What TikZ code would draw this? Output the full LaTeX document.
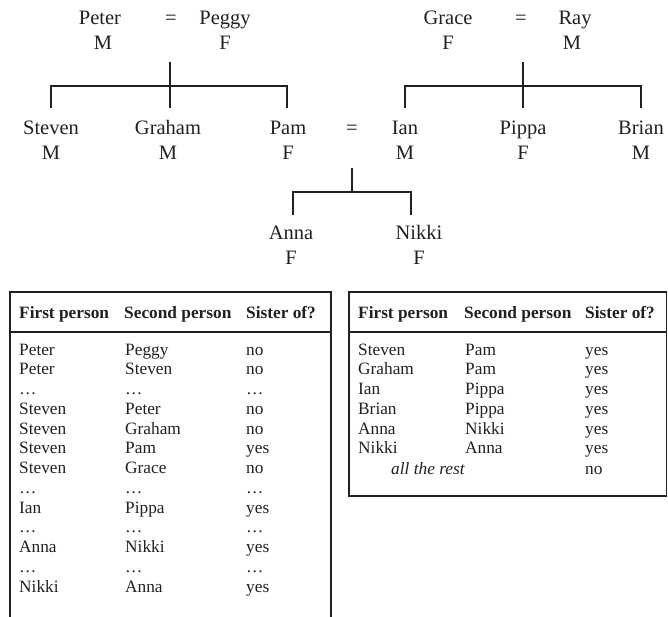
\documentclass[tikz,border=0pt]{standalone}
\usepackage{fontspec}
\setmainfont{Liberation Serif}
\definecolor{ink}{HTML}{231F20}
\begin{document}
\begin{tikzpicture}[x=1pt,y=-1pt,
  tname/.style={anchor=base,inner sep=0pt,text=ink,font=\fontsize{20.5}{24}\selectfont},
  tab/.style={anchor=base west,inner sep=0pt,text=ink,font=\fontsize{17.3}{20}\selectfont},
  tabh/.style={anchor=base west,inner sep=0pt,text=ink,font=\fontsize{17.3}{20}\selectfont\bfseries},
  tline/.style={draw=ink,line width=1.2pt},
  boxline/.style={draw=ink,line width=1.5pt}]
\useasboundingbox (0,0) rectangle (668,617);
% ---- tree: first couple
\node[tname] (peter) at (100,25) {Peter};
\node[tname] (petersex) at (103,50) {M};
\node[tname] (eq1) at (171,25) {=};
\node[tname] (peggy) at (225,25) {Peggy};
\node[tname] (peggysex) at (225,50) {F};
% ---- second couple
\node[tname] (grace) at (448,25) {Grace};
\node[tname] (gracesex) at (448,50) {F};
\node[tname] (eq2) at (521,25) {=};
\node[tname] (ray) at (575,25) {Ray};
\node[tname] (raysex) at (572,50) {M};
% ---- children
\node[tname] (steven) at (51,135) {Steven};
\node[tname] (stevensex) at (51,160) {M};
\node[tname] (graham) at (168,135) {Graham};
\node[tname] (grahamsex) at (168,160) {M};
\node[tname] (pam) at (288,135) {Pam};
\node[tname] (pamsex) at (288,160) {F};
\node[tname] (eq3) at (352,135) {=};
\node[tname] (ian) at (405,135) {Ian};
\node[tname] (iansex) at (405,160) {M};
\node[tname] (pippa) at (523,135) {Pippa};
\node[tname] (pippasex) at (523,160) {F};
\node[tname] (brian) at (641,135) {Brian};
\node[tname] (briansex) at (641,160) {M};
% ---- grandchildren
\node[tname] (anna) at (291,240) {Anna};
\node[tname] (annasex) at (291,264) {F};
\node[tname] (nikki) at (419,240) {Nikki};
\node[tname] (nikkisex) at (419,264) {F};
% ---- connectors
\coordinate (c1top) at (170,62);
\coordinate (c1mid) at (170,86);
\coordinate (c1bot) at (170,108);
\coordinate (c1l) at (51,86);
\coordinate (c1lb) at (51,108);
\coordinate (c1r) at (287,86);
\coordinate (c1rb) at (287,108);
\draw[tline] (c1top) -- (c1bot);
\draw[tline] (c1lb) -- (c1l) -- (c1r) -- (c1rb);
\coordinate (c2top) at (523,62);
\coordinate (c2mid) at (523,86);
\coordinate (c2bot) at (523,108);
\coordinate (c2l) at (405,86);
\coordinate (c2lb) at (405,108);
\coordinate (c2r) at (641,86);
\coordinate (c2rb) at (641,108);
\draw[tline] (c2top) -- (c2bot);
\draw[tline] (c2lb) -- (c2l) -- (c2r) -- (c2rb);
\coordinate (c3top) at (352,168);
\coordinate (c3mid) at (352,192);
\coordinate (c3l) at (293,192);
\coordinate (c3lb) at (293,215);
\coordinate (c3r) at (411,192);
\coordinate (c3rb) at (411,215);
\draw[tline] (c3top) -- (c3mid);
\draw[tline] (c3lb) -- (c3l) -- (c3r) -- (c3rb);
% ---- left table
\coordinate (lt1) at (10,618);
\coordinate (lt2) at (10,292);
\coordinate (lt3) at (331,292);
\coordinate (lt4) at (331,618);
\coordinate (lh1) at (10,332);
\coordinate (lh2) at (331,332);
\draw[boxline] (lt1) -- (lt2) -- (lt3) -- (lt4);
\draw[boxline] (lh1) -- (lh2);
\node[tabh] (lha) at (19,318) {First person};
\node[tabh] (lhb) at (124,318) {Second person};
\node[tabh] (lhc) at (246,318) {Sister of?};
\foreach \a/\b/\c [count=\i from 0] in {Peter/Peggy/no, Peter/Steven/no, …/…/…, Steven/Peter/no, Steven/Graham/no, Steven/Pam/yes, Steven/Grace/no, …/…/…, Ian/Pippa/yes, …/…/…, Anna/Nikki/yes, …/…/…, Nikki/Anna/yes}{
  \node[tab] (la\i) at (19,355+19.75*\i) {\a};
  \node[tab] (lb\i) at (125,355+19.75*\i) {\b};
  \node[tab] (lc\i) at (246,355+19.75*\i) {\c};
}
% ---- right table
\coordinate (rt1) at (349,292);
\coordinate (rt2) at (666.5,292);
\coordinate (rt3) at (666.5,496);
\coordinate (rt4) at (349,496);
\coordinate (rh1) at (349,332);
\coordinate (rh2) at (666.5,332);
\draw[boxline] (rt1) -- (rt2) -- (rt3) -- (rt4) -- cycle;
\draw[boxline] (rh1) -- (rh2);
\node[tabh] (rha) at (358,318) {First person};
\node[tabh] (rhb) at (464,318) {Second person};
\node[tabh] (rhc) at (585,318) {Sister of?};
\foreach \a/\b/\c [count=\i from 0] in {Steven/Pam/yes, Graham/Pam/yes, Ian/Pippa/yes, Brian/Pippa/yes, Anna/Nikki/yes, Nikki/Anna/yes}{
  \node[tab] (ra\i) at (358,355+19.75*\i) {\a};
  \node[tab] (rb\i) at (465,355+19.75*\i) {\b};
  \node[tab] (rc\i) at (585,355+19.75*\i) {\c};
}
\node[tab,font=\fontsize{17.3}{20}\selectfont\itshape] (rrest) at (391,474) {all the rest};
\node[tab] (rrestc) at (585,474) {no};
\end{tikzpicture}
\end{document}
